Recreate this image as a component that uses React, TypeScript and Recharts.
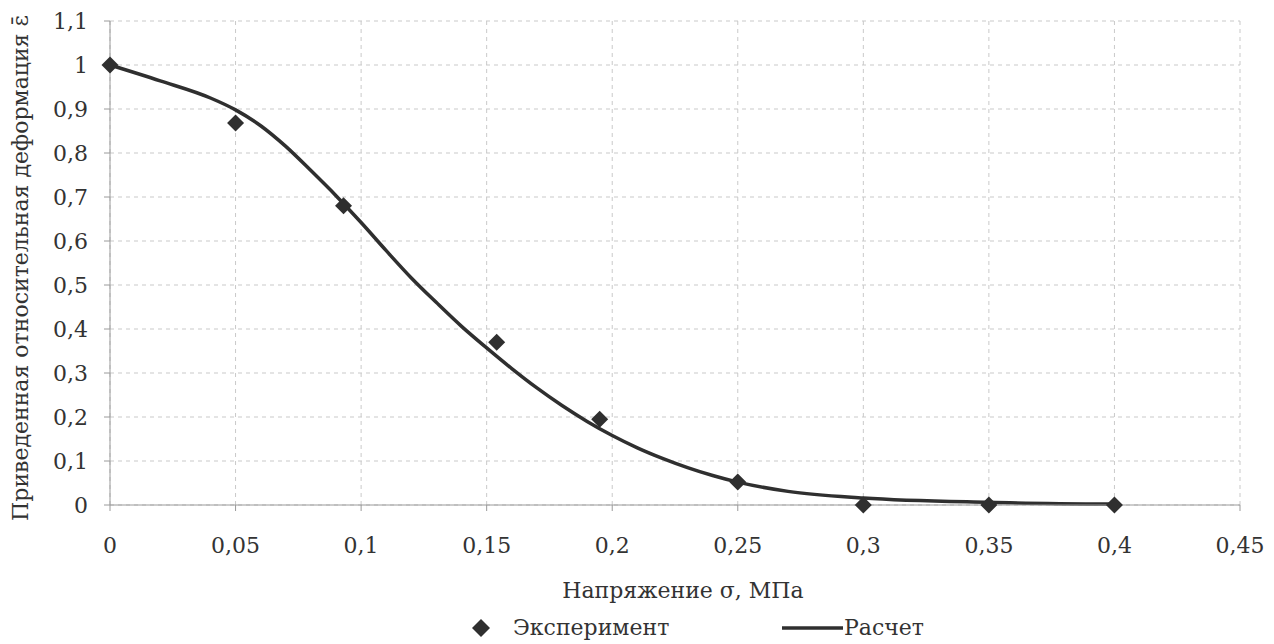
import React from 'react';
import { ComposedChart, Line, Scatter, XAxis, YAxis, CartesianGrid, Legend, Label } from 'recharts';

const xTicks = [0, 0.05, 0.1, 0.15, 0.2, 0.25, 0.3, 0.35, 0.4, 0.45];
const yTicks = [0, 0.1, 0.2, 0.3, 0.4, 0.5, 0.6, 0.7, 0.8, 0.9, 1.0, 1.1];
const xMinorTicks = [
  0.01, 0.02, 0.03, 0.04, 0.06, 0.07, 0.08, 0.09, 0.11, 0.12, 0.13, 0.14,
  0.16, 0.17, 0.18, 0.19, 0.21, 0.22, 0.23, 0.24, 0.26, 0.27, 0.28, 0.29,
  0.31, 0.32, 0.33, 0.34, 0.36, 0.37, 0.38, 0.39, 0.41, 0.42, 0.43, 0.44,
];
const yMinorTicks = [0.05, 0.15, 0.25, 0.35, 0.45, 0.55, 0.65, 0.75, 0.85, 0.95, 1.05];

// Эксперимент
const experimentX = [0, 0.05, 0.093, 0.154, 0.195, 0.25, 0.3, 0.35, 0.4];
const experimentY = [1.0, 0.868, 0.68, 0.37, 0.195, 0.052, 0.0, 0.0, 0.0];

// Расчет
const calcX = [0, 0.02, 0.04, 0.05, 0.06, 0.07, 0.08, 0.09, 0.1, 0.11, 0.12, 0.13, 0.14, 0.15, 0.16, 0.17, 0.18, 0.19, 0.2, 0.21, 0.22, 0.23, 0.24, 0.25, 0.27, 0.3, 0.35, 0.4];
const calcY = [1.0, 0.964, 0.925, 0.898, 0.862, 0.815, 0.76, 0.703, 0.642, 0.578, 0.516, 0.46, 0.406, 0.357, 0.31, 0.266, 0.226, 0.19, 0.158, 0.13, 0.106, 0.085, 0.067, 0.052, 0.031, 0.016, 0.006, 0.002];

const xTitle = 'Напряжение σ, МПа';
const yTitle = 'Приведенная относительная деформация ε\u0304';
const seriesNames = ['Эксперимент', 'Расчет'];

const experimentData = experimentX.map((x, i) => ({ x, y: experimentY[i] }));
const calcData = calcX.map((x, i) => ({ x, y: calcY[i] }));

const FONT = 'DejaVu Serif';
const TEXT = '#333333';
const MARK = '#2f2f2f';

const fmt = (v: number) => String(v).replace('.', ',');

const Diamond = (props: any) => {
  const { cx, cy } = props;
  const h = 8.5;
  return <path d={`M${cx} ${cy - h}L${cx + h} ${cy}L${cx} ${cy + h}L${cx - h} ${cy}Z`} fill={MARK} />;
};

const renderLegend = () => (
  <div style={{ position: 'relative', width: 1266, height: 30, fontFamily: FONT, fontSize: 22, color: TEXT }}>
    <svg style={{ position: 'absolute', left: 464, top: 6 }} width={18} height={18}>
      <path d="M9 0L18 9L9 18L0 9Z" fill={MARK} />
    </svg>
    <span style={{ position: 'absolute', left: 505, top: 0, lineHeight: '30px', whiteSpace: 'nowrap' }}>{seriesNames[0]}</span>
    <svg style={{ position: 'absolute', left: 774, top: 13 }} width={61} height={4}>
      <line x1={0} y1={2} x2={61} y2={2} stroke={MARK} strokeWidth={3.5} />
    </svg>
    <span style={{ position: 'absolute', left: 836, top: 0, lineHeight: '30px', whiteSpace: 'nowrap' }}>{seriesNames[1]}</span>
  </div>
);

export default function App() {
  return (
    <div style={{ width: 1266, height: 636 }}>
      <ComposedChart
        width={1266}
        height={636}
        margin={{ top: 13, right: 34, bottom: 99, left: 0 }}
      >
        <CartesianGrid stroke="#c9c9c9" strokeDasharray="4 4" />
        <XAxis
          xAxisId="minor"
          type="number"
          dataKey="x"
          domain={[0, 0.45]}
          ticks={xMinorTicks}
          interval={0}
          tick={false}
          axisLine={false}
          tickLine={{ stroke: '#9a9a9a' }}
          tickSize={4}
          height={0}
        />
        <XAxis
          type="number"
          dataKey="x"
          domain={[0, 0.45]}
          ticks={xTicks}
          interval={0}
          tickFormatter={fmt}
          tick={{ fill: TEXT, fontSize: 22, fontFamily: FONT }}
          axisLine={{ stroke: '#9a9a9a' }}
          tickLine={{ stroke: '#9a9a9a' }}
          tickSize={6}
          tickMargin={26}
          height={40}
        >
          <Label
            content={() => (
              <text x={675} y={582} textAnchor="middle" dominantBaseline="central" fill={TEXT} fontSize={22} fontFamily={FONT}>
                {xTitle}
              </text>
            )}
          />
        </XAxis>
        <YAxis
          yAxisId="minor"
          type="number"
          domain={[0, 1.1]}
          ticks={yMinorTicks}
          interval={0}
          tick={false}
          axisLine={false}
          tickLine={{ stroke: '#9a9a9a' }}
          tickSize={4}
          width={0}
        />
        <YAxis
          type="number"
          domain={[0, 1.1]}
          ticks={yTicks}
          interval={0}
          tickFormatter={fmt}
          tick={{ fill: TEXT, fontSize: 22, fontFamily: FONT }}
          axisLine={{ stroke: '#9a9a9a' }}
          tickLine={{ stroke: '#9a9a9a' }}
          tickSize={6}
          tickMargin={16}
          width={102}
        >
          <Label
            content={() => (
              <text
                x={12}
                y={260}
                transform="rotate(-90, 12, 260)"
                textAnchor="middle"
                dominantBaseline="central"
                fill={TEXT}
                fontSize={22}
                fontFamily={FONT}
              >
                {yTitle}
              </text>
            )}
          />
        </YAxis>
        <Line
          data={calcData}
          dataKey="y"
          name={seriesNames[1]}
          type="monotone"
          stroke={MARK}
          strokeWidth={3.5}
          dot={false}
          activeDot={false}
          isAnimationActive={false}
        />
        <Scatter
          data={experimentData}
          dataKey="y"
          name={seriesNames[0]}
          fill={MARK}
          shape={Diamond}
          isAnimationActive={false}
        />
        <Legend
          layout="horizontal"
          verticalAlign="middle"
          align="center"
          content={renderLegend}
          wrapperStyle={{ left: 0, top: 605, width: 1266, height: 30 }}
        />
      </ComposedChart>
    </div>
  );
}
